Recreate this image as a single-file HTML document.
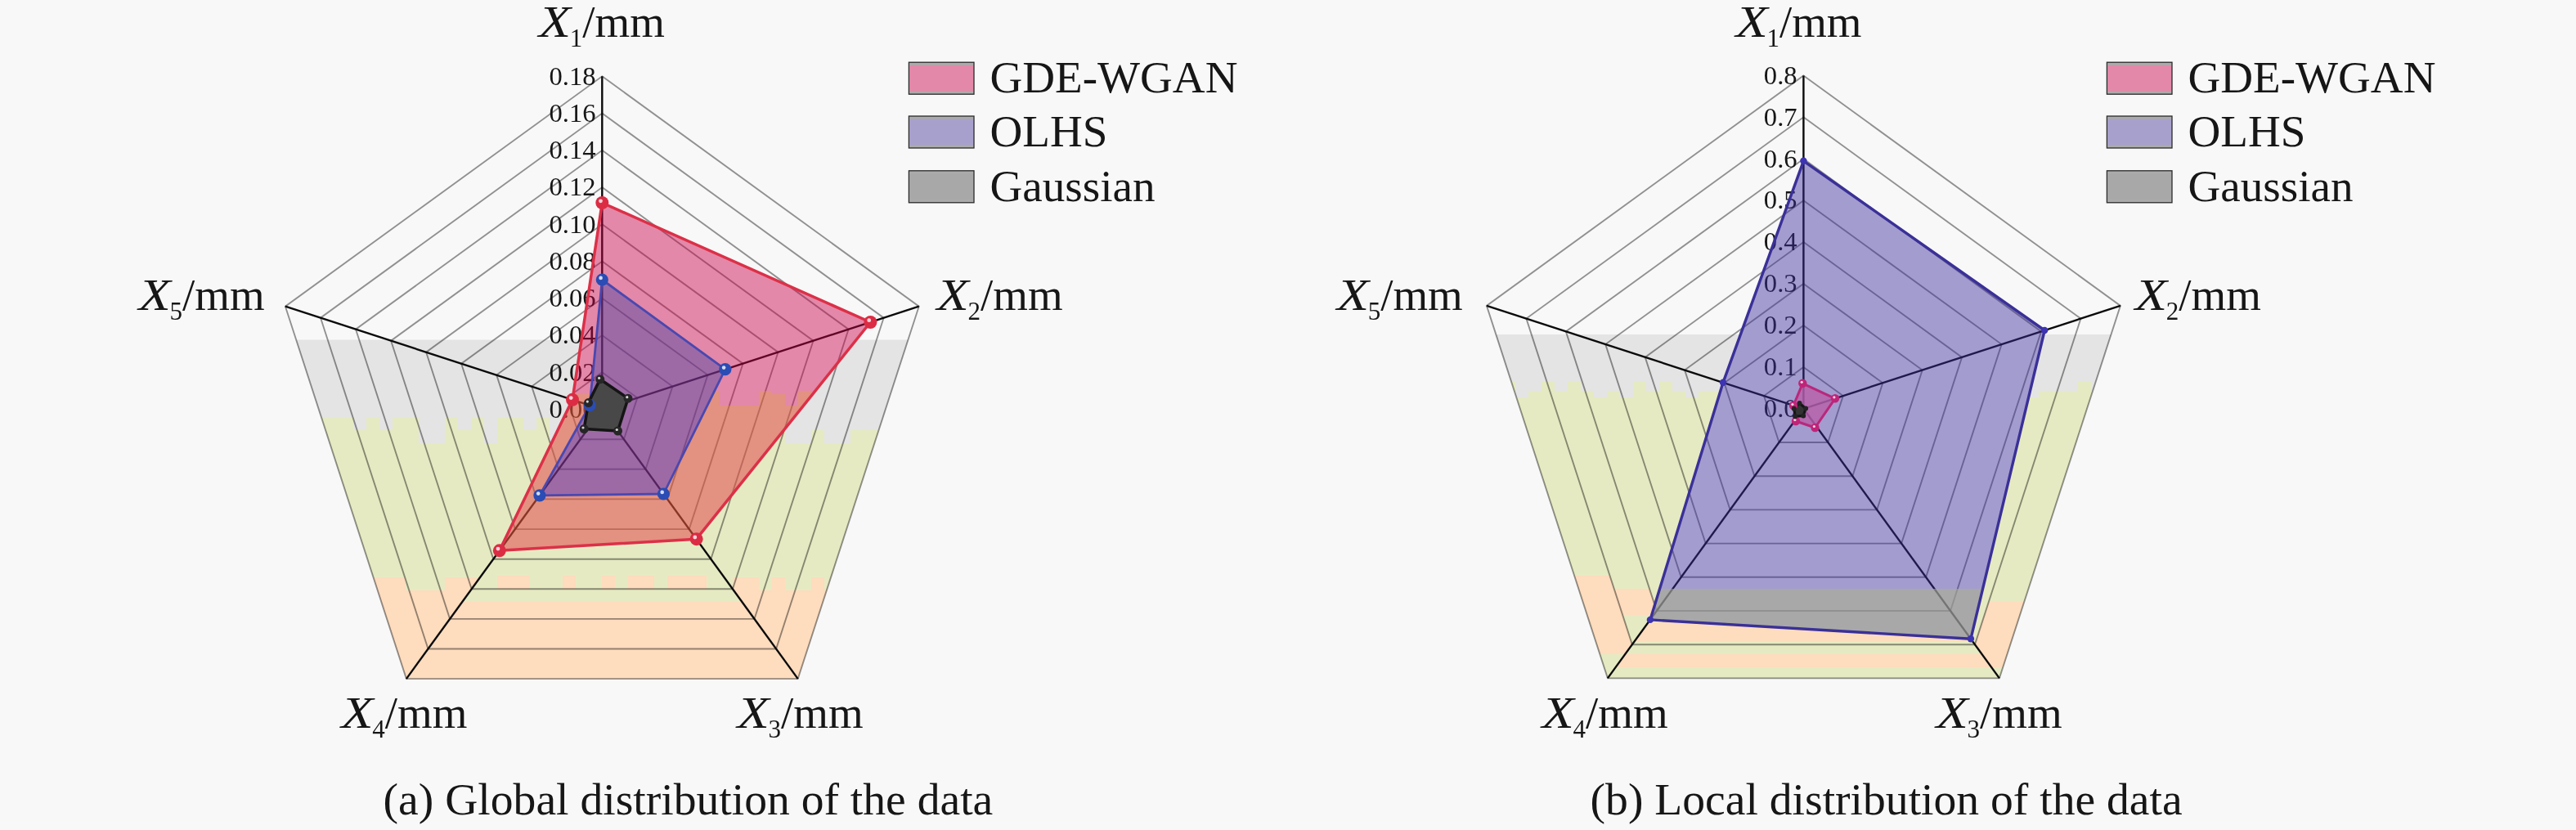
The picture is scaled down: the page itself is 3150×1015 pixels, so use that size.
<!DOCTYPE html>
<html><head><meta charset="utf-8"><title>Radar charts</title>
<style>
html,body{margin:0;padding:0;background:#f8f8f8;}
body{width:3150px;height:1015px;overflow:hidden;}
svg{display:block;font-family:"Liberation Serif", serif;}
svg text{fill:#161616;}
</style></head><body>
<svg width="3150" height="1015" viewBox="0 0 3150 1015">
<clipPath id="pent0"><polygon points="736.3,93.3 1123.7,374.7 975.7,830.1 496.9,830.1 348.9,374.7"/></clipPath>
<g clip-path="url(#pent0)">
<rect x="300" y="690" width="900" height="150" fill="#fedcbe"/>
<polygon points="336.0,500.0 1136.0,500.0 1136.0,690.0 1120.0,690.0 1120.0,706.0 1104.0,706.0 1104.0,706.0 1088.0,706.0 1088.0,706.0 1072.0,706.0 1072.0,690.0 1056.0,690.0 1056.0,706.0 1040.0,706.0 1040.0,706.0 1024.0,706.0 1024.0,722.0 1008.0,722.0 1008.0,706.0 992.0,706.0 992.0,722.0 976.0,722.0 976.0,722.0 960.0,722.0 960.0,706.0 944.0,706.0 944.0,722.0 928.0,722.0 928.0,706.0 912.0,706.0 912.0,706.0 896.0,706.0 896.0,722.0 880.0,722.0 880.0,706.0 864.0,706.0 864.0,690.0 848.0,690.0 848.0,690.0 832.0,690.0 832.0,706.0 816.0,706.0 816.0,706.0 800.0,706.0 800.0,722.0 784.0,722.0 784.0,722.0 768.0,722.0 768.0,722.0 752.0,722.0 752.0,722.0 736.0,722.0 736.0,722.0 720.0,722.0 720.0,706.0 704.0,706.0 704.0,690.0 688.0,690.0 688.0,706.0 672.0,706.0 672.0,690.0 656.0,690.0 656.0,706.0 640.0,706.0 640.0,690.0 624.0,690.0 624.0,690.0 608.0,690.0 608.0,722.0 592.0,722.0 592.0,706.0 576.0,706.0 576.0,706.0 560.0,706.0 560.0,706.0 544.0,706.0 544.0,722.0 528.0,722.0 528.0,722.0 512.0,722.0 512.0,722.0 496.0,722.0 496.0,706.0 480.0,706.0 480.0,706.0 464.0,706.0 464.0,706.0 448.0,706.0 448.0,722.0 432.0,722.0 432.0,690.0 416.0,690.0 416.0,690.0 400.0,690.0 400.0,722.0 384.0,722.0 384.0,706.0 368.0,706.0 368.0,706.0 352.0,706.0 352.0,706.0 336.0,706.0" fill="#e6eac2"/>
<polygon points="336.0,415.5 1136.0,415.5 1136.0,510.0 1120.0,510.0 1120.0,526.0 1104.0,526.0 1104.0,526.0 1088.0,526.0 1088.0,526.0 1072.0,526.0 1072.0,526.0 1056.0,526.0 1056.0,526.0 1040.0,526.0 1040.0,542.0 1024.0,542.0 1024.0,542.0 1008.0,542.0 1008.0,526.0 992.0,526.0 992.0,542.0 976.0,542.0 976.0,542.0 960.0,542.0 960.0,526.0 944.0,526.0 944.0,510.0 928.0,510.0 928.0,510.0 912.0,510.0 912.0,510.0 896.0,510.0 896.0,526.0 880.0,526.0 880.0,526.0 864.0,526.0 864.0,510.0 848.0,510.0 848.0,526.0 832.0,526.0 832.0,526.0 816.0,526.0 816.0,510.0 800.0,510.0 800.0,526.0 784.0,526.0 784.0,542.0 768.0,542.0 768.0,526.0 752.0,526.0 752.0,526.0 736.0,526.0 736.0,510.0 720.0,510.0 720.0,526.0 704.0,526.0 704.0,510.0 688.0,510.0 688.0,542.0 672.0,542.0 672.0,510.0 656.0,510.0 656.0,526.0 640.0,526.0 640.0,510.0 624.0,510.0 624.0,510.0 608.0,510.0 608.0,542.0 592.0,542.0 592.0,510.0 576.0,510.0 576.0,526.0 560.0,526.0 560.0,510.0 544.0,510.0 544.0,542.0 528.0,542.0 528.0,542.0 512.0,542.0 512.0,510.0 496.0,510.0 496.0,510.0 480.0,510.0 480.0,526.0 464.0,526.0 464.0,510.0 448.0,510.0 448.0,526.0 432.0,526.0 432.0,510.0 416.0,510.0 416.0,510.0 400.0,510.0 400.0,510.0 384.0,510.0 384.0,542.0 368.0,542.0 368.0,526.0 352.0,526.0 352.0,526.0 336.0,526.0" fill="#e4e4e4"/>
<clipPath id="bsec0"><polygon points="736.3,500.6 975.7,830.1 496.9,830.1"/></clipPath><g clip-path="url(#bsec0)"><rect x="300" y="600" width="900" height="136" fill="#e6eac2"/><rect x="608" y="704" width="40" height="16" fill="#fedcbe"/><rect x="688" y="704" width="16" height="16" fill="#fedcbe"/><rect x="736" y="704" width="16" height="16" fill="#fedcbe"/><rect x="768" y="704" width="32" height="16" fill="#fedcbe"/><rect x="816" y="704" width="48" height="16" fill="#fedcbe"/></g>
</g>
<polygon points="736.3,248.0 1064.4,394.0 851.6,659.2 610.8,673.3 700.0,488.8" fill="#f8f8f8"/>
<g fill="none" stroke="#000" stroke-opacity="0.42" stroke-width="1.9">
<polygon points="736.3,455.3 779.3,486.6 762.9,537.2 709.7,537.2 693.3,486.6"/>
<polygon points="736.3,410.1 822.4,472.6 789.5,573.8 683.1,573.8 650.2,472.6"/>
<polygon points="736.3,364.8 865.4,458.6 816.1,610.4 656.5,610.4 607.2,458.6"/>
<polygon points="736.3,319.6 908.5,444.7 842.7,647.1 629.9,647.1 564.1,444.7"/>
<polygon points="736.3,274.3 951.5,430.7 869.3,683.7 603.3,683.7 521.1,430.7"/>
<polygon points="736.3,229.1 994.5,416.7 895.9,720.3 576.7,720.3 478.1,416.7"/>
<polygon points="736.3,183.8 1037.6,402.7 922.5,756.9 550.1,756.9 435.0,402.7"/>
<polygon points="736.3,138.6 1080.6,388.7 949.1,793.5 523.5,793.5 392.0,388.7"/>
<polygon points="736.3,93.3 1123.7,374.7 975.7,830.1 496.9,830.1 348.9,374.7"/>
</g>
<g stroke="#0a0a0a" stroke-width="2.4">
<line x1="736.3" y1="500.6" x2="736.3" y2="93.3"/>
<line x1="736.3" y1="500.6" x2="1123.7" y2="374.7"/>
<line x1="736.3" y1="500.6" x2="975.7" y2="830.1"/>
<line x1="736.3" y1="500.6" x2="496.9" y2="830.1"/>
<line x1="736.3" y1="500.6" x2="348.9" y2="374.7"/>
</g>
<g font-size="32.6" text-anchor="end" opacity="0.999">
<text x="728.5" y="510.8">0.00</text>
<text x="728.5" y="465.5">0.02</text>
<text x="728.5" y="420.3">0.04</text>
<text x="728.5" y="375.0">0.06</text>
<text x="728.5" y="329.8">0.08</text>
<text x="728.5" y="284.5">0.10</text>
<text x="728.5" y="239.3">0.12</text>
<text x="728.5" y="194.0">0.14</text>
<text x="728.5" y="148.8">0.16</text>
<text x="728.5" y="103.5">0.18</text>
</g>
<clipPath id="redc"><polygon points="736.3,248.0 1064.4,394.0 851.6,659.2 610.8,673.3 700.0,488.8"/></clipPath>
<mask id="salm" maskUnits="userSpaceOnUse" x="300" y="80" width="900" height="800"><polygon points="592.0,482.0 608.0,482.0 608.0,496.0 624.0,496.0 624.0,496.0 640.0,496.0 640.0,482.0 656.0,482.0 656.0,496.0 672.0,496.0 672.0,482.0 688.0,482.0 688.0,496.0 704.0,496.0 704.0,482.0 720.0,482.0 720.0,482.0 736.0,482.0 736.0,478.0 752.0,478.0 752.0,478.0 768.0,478.0 768.0,482.0 784.0,482.0 784.0,496.0 800.0,496.0 800.0,478.0 816.0,478.0 816.0,482.0 832.0,482.0 832.0,482.0 848.0,482.0 848.0,482.0 864.0,482.0 864.0,478.0 880.0,478.0 880.0,496.0 896.0,496.0 896.0,496.0 912.0,496.0 912.0,496.0 928.0,496.0 928.0,478.0 944.0,478.0 944.0,482.0 960.0,482.0 960.0,496.0 976.0,496.0 976.0,478.0 992.0,478.0 992.0,482.0 1008.0,482.0 1008.0,478.0 1024.0,478.0 1024.0,482.0 1040.0,482.0 1040.0,478.0 1056.0,478.0 1056.0,478.0 1072.0,478.0 1072.0,478.0 1088.0,478.0 1088.0,496.0 1104.0,496.0 1104.0,900.0 592.0,900.0" fill="#fff"/><polygon points="736.3,342.0 886.8,451.7 811.4,604.0 659.9,605.8 721.1,495.7" fill="#000"/></mask>
<polygon points="736.3,248.0 1064.4,394.0 851.6,659.2 610.8,673.3 700.0,488.8" fill="#c90146" fill-opacity="0.45"/>
<g clip-path="url(#redc)"><rect x="300" y="80" width="900" height="800" fill="#e3a729" fill-opacity="0.3" mask="url(#salm)"/></g>
<polygon points="736.3,342.0 886.8,451.7 811.4,604.0 659.9,605.8 721.1,495.7" fill="#4746a4" fill-opacity="0.45"/>
<polygon points="736.3,248.0 1064.4,394.0 851.6,659.2 610.8,673.3 700.0,488.8" fill="none" stroke="#dc3048" stroke-width="3.5" stroke-linejoin="round"/>
<polygon points="736.3,342.0 886.8,451.7 811.4,604.0 659.9,605.8 721.1,495.7" fill="none" stroke="#4a48b0" stroke-width="2.8" stroke-linejoin="round"/>
<polygon points="733.8,463.8 768.0,487.2 755.5,527.0 714.2,524.5 719.5,492.6" fill="#484848" stroke="#151515" stroke-width="3.5" stroke-linejoin="round"/>
<circle cx="736.3" cy="248.0" r="8.0" fill="#dc2c44"/><circle cx="734.5" cy="245.8" r="2.4" fill="#fff" fill-opacity="0.8"/>
<circle cx="1064.4" cy="394.0" r="8.0" fill="#dc2c44"/><circle cx="1062.7" cy="391.7" r="2.4" fill="#fff" fill-opacity="0.8"/>
<circle cx="851.6" cy="659.2" r="8.0" fill="#dc2c44"/><circle cx="849.8" cy="657.0" r="2.4" fill="#fff" fill-opacity="0.8"/>
<circle cx="610.8" cy="673.3" r="8.0" fill="#dc2c44"/><circle cx="609.0" cy="671.1" r="2.4" fill="#fff" fill-opacity="0.8"/>
<circle cx="700.0" cy="488.8" r="8.0" fill="#dc2c44"/><circle cx="698.2" cy="486.6" r="2.4" fill="#fff" fill-opacity="0.8"/>
<circle cx="736.3" cy="342.0" r="7.6" fill="#2a4cb4"/><circle cx="734.6" cy="339.9" r="2.3" fill="#fff" fill-opacity="0.8"/>
<circle cx="886.8" cy="451.7" r="7.6" fill="#2a4cb4"/><circle cx="885.1" cy="449.6" r="2.3" fill="#fff" fill-opacity="0.8"/>
<circle cx="811.4" cy="604.0" r="7.6" fill="#2a4cb4"/><circle cx="809.7" cy="601.9" r="2.3" fill="#fff" fill-opacity="0.8"/>
<circle cx="659.9" cy="605.8" r="7.6" fill="#2a4cb4"/><circle cx="658.2" cy="603.6" r="2.3" fill="#fff" fill-opacity="0.8"/>
<circle cx="721.1" cy="495.7" r="7.6" fill="#2a4cb4"/><circle cx="719.4" cy="493.5" r="2.3" fill="#fff" fill-opacity="0.8"/>
<circle cx="733.8" cy="463.8" r="5.5" fill="#262626"/><circle cx="732.6" cy="462.3" r="1.6" fill="#fff" fill-opacity="0.8"/>
<circle cx="768.0" cy="487.2" r="5.5" fill="#262626"/><circle cx="766.8" cy="485.7" r="1.6" fill="#fff" fill-opacity="0.8"/>
<circle cx="755.5" cy="527.0" r="5.5" fill="#262626"/><circle cx="754.3" cy="525.5" r="1.6" fill="#fff" fill-opacity="0.8"/>
<circle cx="714.2" cy="524.5" r="5.5" fill="#262626"/><circle cx="713.0" cy="523.0" r="1.6" fill="#fff" fill-opacity="0.8"/>
<circle cx="719.5" cy="492.6" r="5.5" fill="#262626"/><circle cx="718.3" cy="491.1" r="1.6" fill="#fff" fill-opacity="0.8"/>
<g transform="translate(657.8,45.2)"><text transform="translate(1,0) scale(1.09,0.92)" font-size="59" font-style="italic">X</text><text x="39" y="12" font-size="31" opacity="0.999">1</text><text x="54.5" y="0" font-size="54" textLength="100.6" lengthAdjust="spacingAndGlyphs">/mm</text></g>
<g transform="translate(1144.6,378.6)"><text transform="translate(1,0) scale(1.09,0.92)" font-size="59" font-style="italic">X</text><text x="39" y="12" font-size="31" opacity="0.999">2</text><text x="54.5" y="0" font-size="54" textLength="100.6" lengthAdjust="spacingAndGlyphs">/mm</text></g>
<g transform="translate(900.6,890.0)"><text transform="translate(1,0) scale(1.09,0.92)" font-size="59" font-style="italic">X</text><text x="39" y="12" font-size="31" opacity="0.999">3</text><text x="54.5" y="0" font-size="54" textLength="100.6" lengthAdjust="spacingAndGlyphs">/mm</text></g>
<g transform="translate(416.3,890.0)"><text transform="translate(1,0) scale(1.09,0.92)" font-size="59" font-style="italic">X</text><text x="39" y="12" font-size="31" opacity="0.999">4</text><text x="54.5" y="0" font-size="54" textLength="100.6" lengthAdjust="spacingAndGlyphs">/mm</text></g>
<g transform="translate(168.5,378.6)"><text transform="translate(1,0) scale(1.09,0.92)" font-size="59" font-style="italic">X</text><text x="39" y="12" font-size="31" opacity="0.999">5</text><text x="54.5" y="0" font-size="54" textLength="100.6" lengthAdjust="spacingAndGlyphs">/mm</text></g>
<rect x="1111.4" y="76.2" width="79.6" height="39" fill="#e388a8"/>
<rect x="1111.4" y="76.2" width="79.6" height="3.6" fill="#ababab"/>
<rect x="1111.4" y="111.6" width="79.6" height="3.6" fill="#ababab"/>
<rect x="1111.4" y="76.2" width="79.6" height="39" fill="none" stroke="#2a2a2a" stroke-width="1.3"/>
<text x="1210.5" y="113.4" font-size="55.1">GDE-WGAN</text>
<rect x="1111.4" y="142.0" width="79.6" height="39" fill="#a8a0cc"/>
<rect x="1111.4" y="142.0" width="79.6" height="3.6" fill="#ababab"/>
<rect x="1111.4" y="177.4" width="79.6" height="3.6" fill="#ababab"/>
<rect x="1111.4" y="142.0" width="79.6" height="39" fill="none" stroke="#2a2a2a" stroke-width="1.3"/>
<text x="1210.5" y="179.2" font-size="55.1">OLHS</text>
<rect x="1111.4" y="208.8" width="79.6" height="39" fill="#a8a8a8"/>
<rect x="1111.4" y="208.8" width="79.6" height="3.6" fill="#ababab"/>
<rect x="1111.4" y="244.2" width="79.6" height="3.6" fill="#ababab"/>
<rect x="1111.4" y="208.8" width="79.6" height="39" fill="none" stroke="#2a2a2a" stroke-width="1.3"/>
<text x="1210.5" y="246.0" font-size="55.1">Gaussian</text>
<text x="468.6" y="996.3" font-size="55.6">(a) Global distribution of the data</text>
<clipPath id="pent1"><polygon points="2205.4,92.4 2592.9,373.9 2444.9,829.4 1965.9,829.4 1817.9,373.9"/></clipPath>
<g clip-path="url(#pent1)">
<polygon points="1805.0,460.0 2605.0,460.0 2605.0,840.0 2589.0,840.0 2589.0,840.0 2573.0,840.0 2573.0,840.0 2557.0,840.0 2557.0,840.0 2541.0,840.0 2541.0,840.0 2525.0,840.0 2525.0,840.0 2509.0,840.0 2509.0,840.0 2493.0,840.0 2493.0,840.0 2477.0,840.0 2477.0,840.0 2461.0,840.0 2461.0,840.0 2445.0,840.0 2445.0,840.0 2429.0,840.0 2429.0,840.0 2413.0,840.0 2413.0,840.0 2397.0,840.0 2397.0,840.0 2381.0,840.0 2381.0,840.0 2365.0,840.0 2365.0,840.0 2349.0,840.0 2349.0,840.0 2333.0,840.0 2333.0,840.0 2317.0,840.0 2317.0,840.0 2301.0,840.0 2301.0,840.0 2285.0,840.0 2285.0,840.0 2269.0,840.0 2269.0,840.0 2253.0,840.0 2253.0,840.0 2237.0,840.0 2237.0,840.0 2221.0,840.0 2221.0,840.0 2205.0,840.0 2205.0,840.0 2189.0,840.0 2189.0,840.0 2173.0,840.0 2173.0,840.0 2157.0,840.0 2157.0,840.0 2141.0,840.0 2141.0,840.0 2125.0,840.0 2125.0,840.0 2109.0,840.0 2109.0,840.0 2093.0,840.0 2093.0,840.0 2077.0,840.0 2077.0,840.0 2061.0,840.0 2061.0,840.0 2045.0,840.0 2045.0,840.0 2029.0,840.0 2029.0,840.0 2013.0,840.0 2013.0,840.0 1997.0,840.0 1997.0,840.0 1981.0,840.0 1981.0,840.0 1965.0,840.0 1965.0,840.0 1949.0,840.0 1949.0,840.0 1933.0,840.0 1933.0,840.0 1917.0,840.0 1917.0,840.0 1901.0,840.0 1901.0,840.0 1885.0,840.0 1885.0,840.0 1869.0,840.0 1869.0,840.0 1853.0,840.0 1853.0,840.0 1837.0,840.0 1837.0,840.0 1821.0,840.0 1821.0,840.0 1805.0,840.0" fill="#e6eac2"/>
<polygon points="1805.0,409.0 2605.0,409.0 2605.0,466.0 2589.0,466.0 2589.0,478.0 2573.0,478.0 2573.0,478.0 2557.0,478.0 2557.0,466.0 2541.0,466.0 2541.0,478.0 2525.0,478.0 2525.0,478.0 2509.0,478.0 2509.0,478.0 2493.0,478.0 2493.0,486.0 2477.0,486.0 2477.0,478.0 2461.0,478.0 2461.0,466.0 2445.0,466.0 2445.0,478.0 2429.0,478.0 2429.0,486.0 2413.0,486.0 2413.0,478.0 2397.0,478.0 2397.0,478.0 2381.0,478.0 2381.0,478.0 2365.0,478.0 2365.0,478.0 2349.0,478.0 2349.0,478.0 2333.0,478.0 2333.0,478.0 2317.0,478.0 2317.0,478.0 2301.0,478.0 2301.0,478.0 2285.0,478.0 2285.0,478.0 2269.0,478.0 2269.0,478.0 2253.0,478.0 2253.0,466.0 2237.0,466.0 2237.0,466.0 2221.0,466.0 2221.0,478.0 2205.0,478.0 2205.0,478.0 2189.0,478.0 2189.0,486.0 2173.0,486.0 2173.0,478.0 2157.0,478.0 2157.0,466.0 2141.0,466.0 2141.0,478.0 2125.0,478.0 2125.0,486.0 2109.0,486.0 2109.0,478.0 2093.0,478.0 2093.0,478.0 2077.0,478.0 2077.0,486.0 2061.0,486.0 2061.0,478.0 2045.0,478.0 2045.0,466.0 2029.0,466.0 2029.0,478.0 2013.0,478.0 2013.0,466.0 1997.0,466.0 1997.0,486.0 1981.0,486.0 1981.0,478.0 1965.0,478.0 1965.0,486.0 1949.0,486.0 1949.0,478.0 1933.0,478.0 1933.0,466.0 1917.0,466.0 1917.0,478.0 1901.0,478.0 1901.0,466.0 1885.0,466.0 1885.0,478.0 1869.0,478.0 1869.0,486.0 1853.0,486.0 1853.0,466.0 1837.0,466.0 1837.0,478.0 1821.0,478.0 1821.0,478.0 1805.0,478.0" fill="#e4e4e4"/>
<clipPath id="rs78"><polygon points="1965.9,829.4 1817.9,373.9 1866.4,389.6 1995.9,788.2"/><polygon points="2592.9,373.9 2444.9,829.4 2414.9,788.2 2544.4,389.6"/></clipPath>
<clipPath id="rs67"><polygon points="1995.9,788.2 1866.4,389.6 1914.8,405.4 2025.8,747.0"/></clipPath>
<g clip-path="url(#rs78)"><rect x="1900" y="704" width="200" height="96" fill="#fedcbe"/><rect x="2400" y="736" width="80" height="80" fill="#fedcbe"/></g>
<rect x="1900" y="720" width="200" height="32" fill="#fedcbe" clip-path="url(#rs67)"/>
<clipPath id="bsec1"><polygon points="2205.4,499.8 2444.9,829.4 1965.9,829.4"/></clipPath><g clip-path="url(#bsec1)"><rect x="1780" y="700" width="900" height="140" fill="#e6eac2"/><rect x="1780" y="761" width="900" height="23" fill="#fedcbe"/><rect x="1780" y="800" width="900" height="16" fill="#fedcbe"/></g>
</g>
<polygon points="2205.4,196.8 2500.2,404.0 2409.9,781.3 2017.9,757.9 2107.0,467.8" fill="#f8f8f8"/>
<g fill="none" stroke="#000" stroke-opacity="0.42" stroke-width="1.9">
<polygon points="2205.4,448.9 2253.8,484.1 2235.3,541.0 2175.5,541.0 2157.0,484.1"/>
<polygon points="2205.4,398.0 2302.3,468.3 2265.3,582.2 2145.5,582.2 2108.5,468.3"/>
<polygon points="2205.4,347.0 2350.7,452.6 2295.2,623.4 2115.6,623.4 2060.1,452.6"/>
<polygon points="2205.4,296.1 2399.1,436.9 2325.1,664.6 2085.7,664.6 2011.7,436.9"/>
<polygon points="2205.4,245.2 2447.6,421.1 2355.1,705.8 2055.7,705.8 1963.2,421.1"/>
<polygon points="2205.4,194.3 2496.0,405.4 2385.0,747.0 2025.8,747.0 1914.8,405.4"/>
<polygon points="2205.4,143.3 2544.4,389.6 2414.9,788.2 1995.9,788.2 1866.4,389.6"/>
<polygon points="2205.4,92.4 2592.9,373.9 2444.9,829.4 1965.9,829.4 1817.9,373.9"/>
</g>
<g stroke="#0a0a0a" stroke-width="2.4">
<line x1="2205.4" y1="499.8" x2="2205.4" y2="92.4"/>
<line x1="2205.4" y1="499.8" x2="2592.9" y2="373.9"/>
<line x1="2205.4" y1="499.8" x2="2444.9" y2="829.4"/>
<line x1="2205.4" y1="499.8" x2="1965.9" y2="829.4"/>
<line x1="2205.4" y1="499.8" x2="1817.9" y2="373.9"/>
</g>
<g font-size="32.6" text-anchor="end" opacity="0.999">
<text x="2197.6" y="510.0">0.0</text>
<text x="2197.6" y="459.1">0.1</text>
<text x="2197.6" y="408.2">0.2</text>
<text x="2197.6" y="357.2">0.3</text>
<text x="2197.6" y="306.3">0.4</text>
<text x="2197.6" y="255.4">0.5</text>
<text x="2197.6" y="204.5">0.6</text>
<text x="2197.6" y="153.5">0.7</text>
<text x="2197.6" y="102.6">0.8</text>
</g>
<clipPath id="bluec"><polygon points="2205.4,196.8 2500.2,404.0 2409.9,781.3 2017.9,757.9 2107.0,467.8"/></clipPath>
<polygon points="2205.4,196.8 2500.2,404.0 2409.9,781.3 2017.9,757.9 2107.0,467.8" fill="#3b2c9b" fill-opacity="0.45"/>
<rect x="1780" y="720" width="900" height="80" fill="#abb08f" fill-opacity="0.6" clip-path="url(#bluec)"/>
<polygon points="2205.4,196.8 2500.2,404.0 2409.9,781.3 2017.9,757.9 2107.0,467.8" fill="none" stroke="#3a3098" stroke-width="3.4" stroke-linejoin="round"/>
<polygon points="2204.3,468.8 2244.0,487.3 2219.5,523.0 2196.0,515.0 2193.0,496.0" fill="#b85fa8" fill-opacity="0.8" stroke="#b8287c" stroke-width="3" stroke-linejoin="round"/>
<polygon points="2200.5,493.0 2208.1,499.5 2205.2,508.5 2195.2,509.3 2193.8,499.8" fill="#333" stroke="#151515" stroke-width="3"/>
<circle cx="2205.4" cy="196.8" r="4.2" fill="#3c34b0"/>
<circle cx="2500.2" cy="404.0" r="4.2" fill="#3c34b0"/>
<circle cx="2409.9" cy="781.3" r="4.2" fill="#3c34b0"/>
<circle cx="2017.9" cy="757.9" r="4.2" fill="#3c34b0"/>
<circle cx="2107.0" cy="467.8" r="4.2" fill="#3c34b0"/>
<circle cx="2204.3" cy="468.8" r="5.2" fill="#c02478"/><circle cx="2203.2" cy="467.3" r="1.6" fill="#fff" fill-opacity="0.8"/>
<circle cx="2244.0" cy="487.3" r="5.2" fill="#c02478"/><circle cx="2242.9" cy="485.8" r="1.6" fill="#fff" fill-opacity="0.8"/>
<circle cx="2219.5" cy="523.0" r="5.2" fill="#c02478"/><circle cx="2218.4" cy="521.5" r="1.6" fill="#fff" fill-opacity="0.8"/>
<circle cx="2196.0" cy="515.0" r="5.2" fill="#c02478"/><circle cx="2194.9" cy="513.5" r="1.6" fill="#fff" fill-opacity="0.8"/>
<circle cx="2193.0" cy="496.0" r="5.2" fill="#c02478"/><circle cx="2191.9" cy="494.5" r="1.6" fill="#fff" fill-opacity="0.8"/>
<circle cx="2200.5" cy="493.0" r="3.0" fill="#222"/>
<circle cx="2208.1" cy="499.5" r="3.0" fill="#222"/>
<circle cx="2205.2" cy="508.5" r="3.0" fill="#222"/>
<circle cx="2195.2" cy="509.3" r="3.0" fill="#222"/>
<circle cx="2193.8" cy="499.8" r="3.0" fill="#222"/>
<g transform="translate(2121.4,45.2)"><text transform="translate(1,0) scale(1.09,0.92)" font-size="59" font-style="italic">X</text><text x="39" y="12" font-size="31" opacity="0.999">1</text><text x="54.5" y="0" font-size="54" textLength="100.6" lengthAdjust="spacingAndGlyphs">/mm</text></g>
<g transform="translate(2609.8,378.6)"><text transform="translate(1,0) scale(1.09,0.92)" font-size="59" font-style="italic">X</text><text x="39" y="12" font-size="31" opacity="0.999">2</text><text x="54.5" y="0" font-size="54" textLength="100.6" lengthAdjust="spacingAndGlyphs">/mm</text></g>
<g transform="translate(2366.5,890.0)"><text transform="translate(1,0) scale(1.09,0.92)" font-size="59" font-style="italic">X</text><text x="39" y="12" font-size="31" opacity="0.999">3</text><text x="54.5" y="0" font-size="54" textLength="100.6" lengthAdjust="spacingAndGlyphs">/mm</text></g>
<g transform="translate(1884.5,890.0)"><text transform="translate(1,0) scale(1.09,0.92)" font-size="59" font-style="italic">X</text><text x="39" y="12" font-size="31" opacity="0.999">4</text><text x="54.5" y="0" font-size="54" textLength="100.6" lengthAdjust="spacingAndGlyphs">/mm</text></g>
<g transform="translate(1633.7,378.6)"><text transform="translate(1,0) scale(1.09,0.92)" font-size="59" font-style="italic">X</text><text x="39" y="12" font-size="31" opacity="0.999">5</text><text x="54.5" y="0" font-size="54" textLength="100.6" lengthAdjust="spacingAndGlyphs">/mm</text></g>
<rect x="2576.4" y="76.2" width="79.6" height="39" fill="#e388a8"/>
<rect x="2576.4" y="76.2" width="79.6" height="3.6" fill="#ababab"/>
<rect x="2576.4" y="111.6" width="79.6" height="3.6" fill="#ababab"/>
<rect x="2576.4" y="76.2" width="79.6" height="39" fill="none" stroke="#2a2a2a" stroke-width="1.3"/>
<text x="2675.5" y="113.4" font-size="55.1">GDE-WGAN</text>
<rect x="2576.4" y="142.0" width="79.6" height="39" fill="#a8a0cc"/>
<rect x="2576.4" y="142.0" width="79.6" height="3.6" fill="#ababab"/>
<rect x="2576.4" y="177.4" width="79.6" height="3.6" fill="#ababab"/>
<rect x="2576.4" y="142.0" width="79.6" height="39" fill="none" stroke="#2a2a2a" stroke-width="1.3"/>
<text x="2675.5" y="179.2" font-size="55.1">OLHS</text>
<rect x="2576.4" y="208.8" width="79.6" height="39" fill="#a8a8a8"/>
<rect x="2576.4" y="208.8" width="79.6" height="3.6" fill="#ababab"/>
<rect x="2576.4" y="244.2" width="79.6" height="3.6" fill="#ababab"/>
<rect x="2576.4" y="208.8" width="79.6" height="39" fill="none" stroke="#2a2a2a" stroke-width="1.3"/>
<text x="2675.5" y="246.0" font-size="55.1">Gaussian</text>
<text x="1944.6" y="996.3" font-size="55.6">(b) Local distribution of the data</text>
</svg>
</body></html>
